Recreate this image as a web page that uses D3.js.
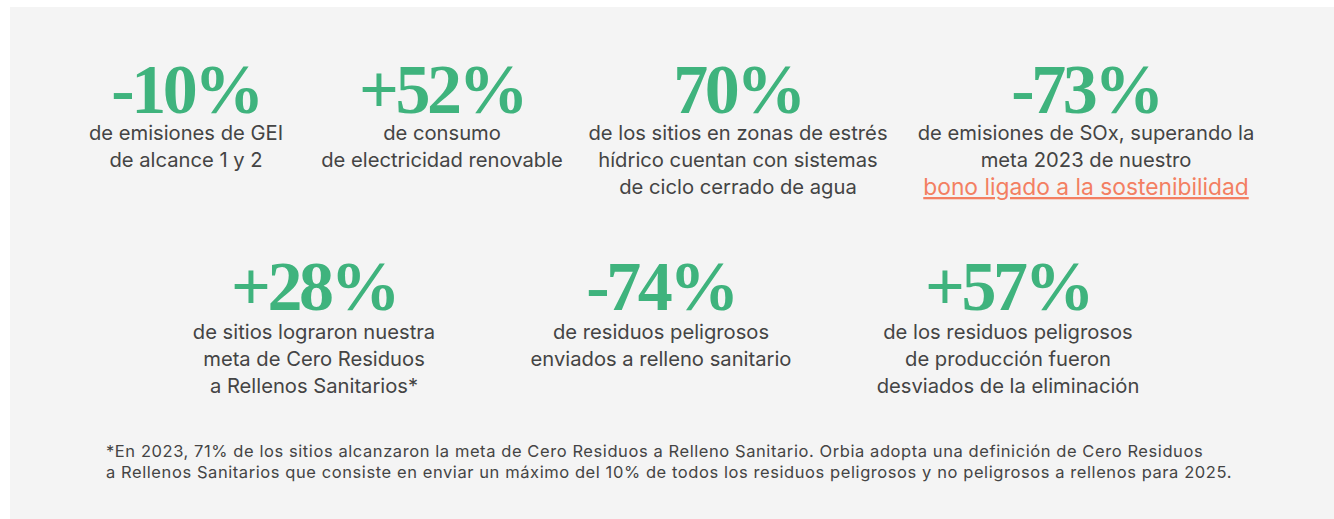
<!DOCTYPE html>
<html><head><meta charset="utf-8">
<script src="https://cdn.jsdelivr.net/npm/d3@7"></script>
<style>
html,body{margin:0;padding:0;background:#fff;}
svg{display:block;}
</style></head>
<body>
<svg id="chart" width="1334" height="519"></svg>
<script>
// ---- data ----
const row1Values = ["-10%", "+52%", "70%", "-73%"];
const row1Lines = [
  ["de emisiones de GEI", "de alcance 1 y 2"],
  ["de consumo", "de electricidad renovable"],
  ["de los sitios en zonas de estrés", "hídrico cuentan con sistemas", "de ciclo cerrado de agua"],
  ["de emisiones de SOx, superando la", "meta 2023 de nuestro", "bono ligado a la sostenibilidad"]
];
const row2Values = ["+28%", "-74%", "+57%"];
const row2Lines = [
  ["de sitios lograron nuestra", "meta de Cero Residuos", "a Rellenos Sanitarios*"],
  ["de residuos peligrosos", "enviados a relleno sanitario"],
  ["de los residuos peligrosos", "de producción fueron", "desviados de la eliminación"]
];
const linkLines = ["bono ligado a la sostenibilidad"];
const footnote = [
  "*En 2023, 71% de los sitios alcanzaron la meta de Cero Residuos a Relleno Sanitario. Orbia adopta una definición de Cero Residuos",
  "a Rellenos Sanitarios que consiste en enviar un máximo del 10% de todos los residuos peligrosos y no peligrosos a rellenos para 2025."
];

// ---- style ----
const W = 1334, H = 519;
const green = "#3fb37d", grey = "#444444", link = "#f37f62", panel = "#f4f4f4";
const bigFont = "'Liberation Serif', 'DejaVu Serif', serif";
const txtFont = "Inter, 'Noto Sans', sans-serif";

const svg = d3.select("#chart");
svg.append("rect").attr("x", 10).attr("y", 7).attr("width", W - 10).attr("height", H - 7).attr("fill", panel);

function drawRow(values, lines, xs, bigBase, lineBase) {
  const g = svg.selectAll(null).data(values.map((v, i) => ({v, lines: lines[i], x: xs(i)})))
    .enter().append("g").attr("transform", d => `translate(${d.x},0)`);
  g.append("text").attr("y", bigBase).attr("text-anchor", "middle")
    .attr("font-family", bigFont).attr("font-weight", "bold").attr("font-size", 70)
    .attr("letter-spacing", -3.5)
    .attr("fill", green).text(d => d.v);
  g.each(function(d) {
    const sel = d3.select(this);
    d.lines.forEach((l, j) => {
      const isLink = linkLines.includes(l);
      sel.append("text").attr("y", lineBase + j * 27 + (isLink ? 1 : 0)).attr("text-anchor", "middle")
        .attr("font-family", txtFont).attr("font-size", isLink ? 22.8 : 20.2)
        .attr("fill", isLink ? link : grey)
        .attr("text-decoration", isLink ? "underline" : null)
        .text(l);
    });
  });
}

const x1 = d3.scaleOrdinal().domain(d3.range(4)).range([186, 442, 738, 1086]);
const x2 = d3.scalePoint().domain(d3.range(3)).range([314, 1008]);
drawRow(row1Values, row1Lines, x1, 113, 140);
drawRow(row2Values, row2Lines, x2, 310, 339);

svg.selectAll(".fn").data(footnote).enter().append("text")
  .attr("x", 106).attr("y", (d, i) => 457 + i * 21)
  .attr("font-family", txtFont).attr("font-size", 16.5).attr("letter-spacing", 0.58).attr("fill", grey)
  .text(d => d);
</script>
</body></html>
